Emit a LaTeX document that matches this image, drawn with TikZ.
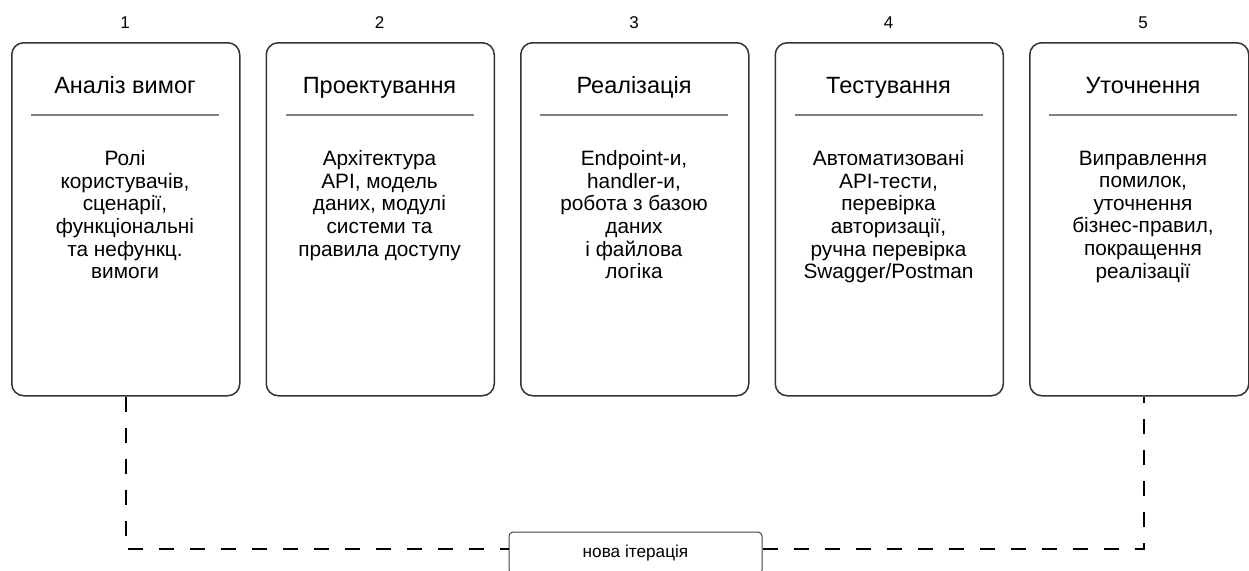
\documentclass[tikz,border=0pt]{standalone}
\usepackage{fontspec}
\setmainfont{Liberation Sans}
\begin{document}
\begin{tikzpicture}[x=1pt,y=-1pt,
  stage/.style={draw=black!80, line width=1.5pt, rounded corners=12pt, minimum height=353pt, anchor=north west, inner sep=0pt},
  num/.style={font=\fontsize{17}{20}\selectfont, anchor=base},
  ttl/.style={font=\fontsize{23.5}{27}\selectfont, anchor=base},
  sep/.style={draw=black!50, line width=2pt},
  body/.style={font=\fontsize{20.8}{22.6}\selectfont, anchor=north, align=center, inner sep=0pt},
  loop/.style={draw=black, line width=2.5pt, dash pattern=on 15pt off 16pt},
  lbl/.style={draw=black!75, line width=1pt, rounded corners=4pt, minimum width=253pt, minimum height=42pt, inner sep=0pt, font=\fontsize{17.2}{20}\selectfont}
]
\useasboundingbox (0,0) rectangle (1249,570);

\foreach \i/\x/\w/\t/\b in {
  1/11/228/{Аналіз вимог}/{Ролі\\користувачів,\\сценарії,\\функціональні\\та нефункц.\\вимоги},
  2/265.5/228/{Проектування}/{Архітектура\\API, модель\\даних, модулі\\системи та\\правила доступу},
  3/520/228/{Реалізація}/{Endpoint-и,\\handler-и,\\робота з базою\\даних\\і файлова\\логіка},
  4/774.5/228/{Тестування}/{Автоматизовані\\API-тести,\\перевірка\\авторизації,\\ручна перевірка\\Swagger/Postman},
  5/1029/219/{Уточнення}/{Виправлення\\помилок,\\уточнення\\бізнес-правил,\\покращення\\реалізації}}
{
  \node[stage, minimum width=\w pt] (b\i) at (\x,42) {};
  \node[num] (n\i) at (\x+114,28) {\i};
  \node[ttl] (t\i) at (\x+114,93.5) {\t};
  \draw[sep] (\x+20,115) -- (\x+208,115);
  \node[body] (d\i) at (\x+114,150.5) {\b};
}

\node[lbl] (it) at (635.5,553) {нова ітерація};
\draw[loop] (b1.south) |- ([yshift=4pt]it.west);
\draw[loop] ([yshift=4pt]it.east) -| ([xshift=4.5pt]b5.south);
\end{tikzpicture}
\end{document}
